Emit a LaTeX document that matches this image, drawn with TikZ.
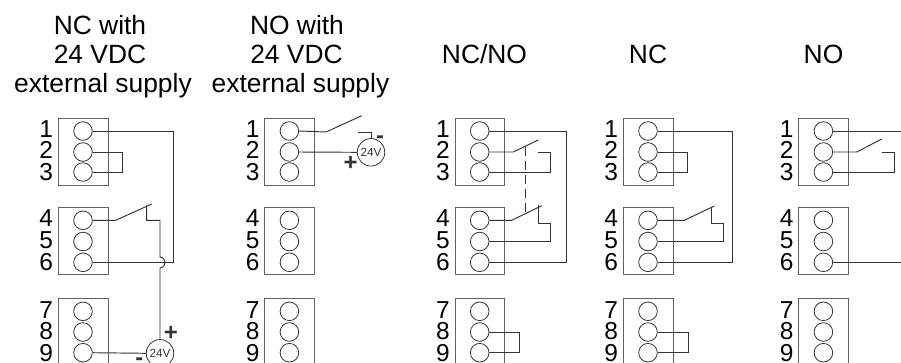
\documentclass[tikz,border=0pt]{standalone}
\usepackage{fontspec}
\setmainfont{Liberation Sans}
\definecolor{wire}{gray}{0.2}
\definecolor{edge}{gray}{0.38}
\newcommand{\headfont}{\fontsize{26.4}{30}\selectfont}
\newcommand{\numfont}{\fontsize{24.5}{26}\selectfont}
\newcommand{\signfont}{\fontsize{24}{26}\selectfont\bfseries}
\newcommand{\voltfont}{\fontsize{11.8}{13}\selectfont}
\tikzset{
  x=1pt,y=-1pt,
  wiring/.style={draw=wire,line width=0.95pt,line join=miter},
  blockbox/.style={draw=edge,line width=1pt,rectangle,minimum width=49.7pt,minimum height=66.7pt,inner sep=0pt},
  terminal/.style={draw=wire,line width=0.8pt,circle,minimum size=18.6pt,inner sep=0pt},
  termnum/.style={anchor=base east,inner sep=0pt,font=\numfont,text=black},
  heading/.style={anchor=base,inner sep=0pt,font=\headfont,text=black},
  supply/.style={draw=wire,line width=0.8pt,circle,minimum size=27.5pt,inner sep=0pt,font=\voltfont,text=wire},
  polarity/.style={anchor=base,inner sep=0pt,font=\signfont,text=wire},
}
\newcommand{\termblock}[2]{%
  \node[blockbox] (#1A) at (#2+24.85,151.65) {};
  \node[blockbox] (#1B) at (#2+24.85,240.65) {};
  \node[blockbox] (#1C) at (#2+24.85,331.65) {};
  \node[terminal] (#11) at (#2+24.7,131) {};
  \node[terminal] (#12) at (#2+24.7,152) {};
  \node[terminal] (#13) at (#2+24.7,172) {};
  \node[terminal] (#14) at (#2+24.7,220.3) {};
  \node[terminal] (#15) at (#2+24.7,241.5) {};
  \node[terminal] (#16) at (#2+24.7,262.3) {};
  \node[terminal] (#17) at (#2+24.7,311.3) {};
  \node[terminal] (#18) at (#2+24.7,332) {};
  \node[terminal] (#19) at (#2+24.7,352.7) {};
  \node[termnum] (#1n1) at (#2-5,137.3) {1};
  \node[termnum] (#1n2) at (#2-5,158.3) {2};
  \node[termnum] (#1n3) at (#2-5,180.5) {3};
  \node[termnum] (#1n4) at (#2-5,226.7) {4};
  \node[termnum] (#1n5) at (#2-5,248) {5};
  \node[termnum] (#1n6) at (#2-5,270.5) {6};
  \node[termnum] (#1n7) at (#2-5,318) {7};
  \node[termnum] (#1n8) at (#2-5,339.5) {8};
  \node[termnum] (#1n9) at (#2-5,361.5) {9};
}
\begin{document}
\begin{tikzpicture}
\clip (0,0) rectangle (901,362);
\fill[white] (0,0) rectangle (901,362);
% headings
\node[heading] (h1a) at (100,34) {NC with};
\node[heading] (h1b) at (100,63.7) {24 VDC};
\node[heading] (h1c) at (103,92.7) {external supply};
\node[heading] (h2a) at (297,34) {NO with};
\node[heading] (h2b) at (296.5,63.7) {24 VDC};
\node[heading] (h2c) at (300.5,92.7) {external supply};
\node[heading] (h3) at (484.5,63.7) {NC/NO};
\node[heading] (h4) at (648,63.7) {NC};
\node[heading] (h5) at (823.5,63.7) {NO};
% blocks
\termblock{a}{58.3}
\termblock{b}{264.7}
\termblock{c}{455}
\termblock{d}{623.3}
\termblock{e}{798.7}
% column 1
\node[supply] (v1) at (160,353.3) {24V};
\node[polarity] (v1p) at (171,340) {+};
\node[polarity] (v1m) at (139.3,365.5) {-};
\draw[wiring] (a1.east) -- (173.3,131) -- (173.3,262.3) -- (a6.east);
\draw[wiring] (a2.east) -- (122.3,152) -- (122.3,172) -- (a3.east);
\draw[wiring] (a4.east) -- (115.7,220.3) -- (151.7,204);
\draw[wiring] (146.7,205.5) -- (146.7,220.3) -- (160,220.3) -- (160,257)
  .. controls (166.8,258) and (166.8,267) .. (160,268) -- (v1.north);
\draw[wiring] (a9.east) -- (v1.west);
% column 2
\node[supply] (v2) at (371,152.3) {24V};
\node[polarity] (v2p) at (350.7,170) {+};
\node[polarity] (v2m) at (380,143) {-};
\draw[wiring] (b1.east) -- (326,132) -- (361.7,115.7);
\draw[wiring] (357.7,132) -- (371,132) -- (v2.north);
\draw[wiring] (b2.east) -- (v2.west);
% column 3
\draw[wiring] (c1.east) -- (566,131) -- (566,262.3) -- (c6.east);
\draw[wiring] (c2.east) -- (513.3,152) -- (538.3,140);
\draw[wiring] (538.3,152.3) -- (550.7,152.3) -- (550.7,172) -- (c3.east);
\draw[wiring,dashed,dash pattern=on 9pt off 5pt] (525.7,146.7) -- (525.7,213);
\draw[wiring] (c4.east) -- (511.7,220.3) -- (541.7,205.7);
\draw[wiring] (538.3,205) -- (538.3,223.7) -- (550,223.7) -- (550,241.5) -- (c5.east);
\draw[wiring] (c8.east) -- (519.7,332) -- (519.7,352.7) -- (c9.east);
% column 4
\draw[wiring] (d1.east) -- (732,131) -- (732,262.3) -- (d6.east);
\draw[wiring] (d2.east) -- (687.7,152) -- (687.7,172) -- (d3.east);
\draw[wiring] (d4.east) -- (684.3,220.3) -- (714.3,206);
\draw[wiring] (711.7,206.7) -- (711.7,223.7) -- (723,223.7) -- (723,241.5) -- (d5.east);
\draw[wiring] (d8.east) -- (688,332) -- (688,352.7) -- (d9.east);
% column 5
\coordinate (e1end) at (901,131);
\coordinate (e6end) at (901,262.3);
\draw[wiring] (e1.east) -- (e1end);
\draw[wiring] (e2.east) -- (856.7,152) -- (881.7,139);
\draw[wiring] (881.7,152) -- (894,152) -- (894,172) -- (e3.east);
\draw[wiring] (e6.east) -- (e6end);
\end{tikzpicture}
\end{document}
